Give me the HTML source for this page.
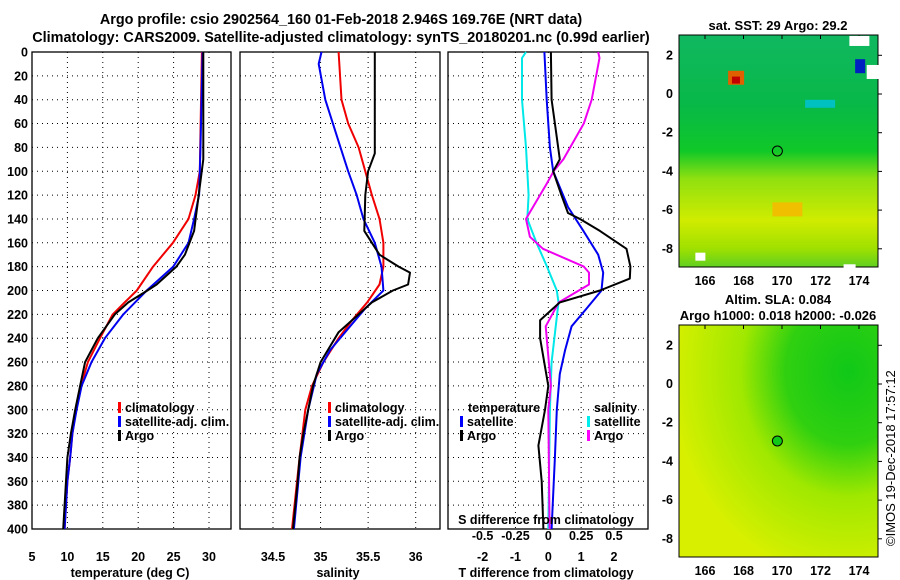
<!DOCTYPE html>
<html><head><meta charset="utf-8"><style>
html,body{margin:0;padding:0;background:#fff;}
svg{display:block;font-family:"Liberation Sans",sans-serif;font-weight:bold;}
</style></head><body>
<svg id="fig" width="900" height="580" viewBox="0 0 900 580">
<defs>
<linearGradient id="sstg" x1="0" y1="0" x2="0" y2="1">
<stop offset="0" stop-color="#10b860"/><stop offset="0.3" stop-color="#08b848"/><stop offset="0.5" stop-color="#10c828"/>
<stop offset="0.62" stop-color="#90e010"/><stop offset="0.8" stop-color="#d0ec00"/><stop offset="0.92" stop-color="#a0e000"/><stop offset="1" stop-color="#60d020"/>
</linearGradient>
<radialGradient id="slag" cx="0.85" cy="0.2" r="0.9">
<stop offset="0" stop-color="#10c818"/><stop offset="0.35" stop-color="#30d010"/><stop offset="0.6" stop-color="#a0e800"/><stop offset="1" stop-color="#d8f000"/>
</radialGradient>
</defs>
<text x="341" y="24" text-anchor="middle" font-size="14.4">Argo profile: csio 2902564_160 01-Feb-2018 2.946S 169.76E (NRT data)</text>
<text x="341" y="42" text-anchor="middle" font-size="14.4">Climatology: CARS2009. Satellite-adjusted climatology: synTS_20180201.nc (0.99d earlier)</text>
<g id="plots"></g>
<g id="maps"></g>
</svg>
<script>
// ---- data ----
const depthTicks = [0,20,40,60,80,100,120,140,160,180,200,220,240,260,280,300,320,340,360,380,400];
const tempTicks = [5,10,15,20,25,30];
const salTicks = [34.5,35,35.5,36];
const tdiffTicks = [-2,-1,0,1,2];
const sdiffTicks = [-0.5,-0.25,0,0.25,0.5];
const sdiffTickLabels = ["-0.5","-0.25","0","0.25","0.5"];

const tArgoDepth = [0,90,150,170,180,195,200,210,220,230,240,260,280,300,320,340,360,380,400];
const tArgo      = [29.2,29.2,27.9,26.6,25.4,22.6,21.3,18.6,16.7,15.5,14.3,12.5,11.8,11.1,10.5,10.0,9.8,9.6,9.4];
const tClimDepth = [0,100,120,140,160,180,200,210,220,240,260,280,300,320,340,360,400];
const tClim      = [29.0,28.7,28.1,27.1,24.9,22.1,19.8,18.1,16.4,14.6,12.9,11.9,11.2,10.7,10.4,10.0,9.6];
const tSatDepth  = [0,80,120,140,160,180,200,220,240,260,280,300,320,340,360,400];
const tSat       = [29.1,28.8,28.6,27.9,27.1,24.96,21.2,17.9,15.3,13.4,12.0,11.3,10.7,10.4,10.0,9.6];

const sArgoDepth = [0,85,100,120,150,170,180,185,195,200,210,220,235,260,280,300,320,340,360,400];
const sArgo      = [35.57,35.57,35.50,35.47,35.46,35.62,35.82,35.94,35.92,35.76,35.54,35.40,35.19,35.0,34.92,34.87,34.82,34.78,34.76,34.71];
const sClimDepth = [0,40,60,80,100,120,140,160,180,195,210,225,240,260,280,300,340,400];
const sClim      = [35.19,35.22,35.29,35.40,35.47,35.54,35.62,35.66,35.66,35.62,35.49,35.33,35.19,35.03,34.91,34.84,34.78,34.70];
const sSatDepth  = [0,10,40,80,100,120,140,160,180,200,215,230,250,270,300,340,400];
const sSat       = [35.01,34.98,35.05,35.21,35.29,35.38,35.45,35.57,35.64,35.66,35.47,35.31,35.10,34.96,34.87,34.79,34.72];

const dtArgoDepth = [0,40,60,90,100,120,135,140,150,165,180,190,200,210,225,240,280,300,330,360,400];
const dtArgo      = [0.08,0.1,0.2,0.35,0.15,0.4,0.6,0.96,1.57,2.38,2.5,2.48,1.57,0.35,-0.25,-0.25,0,-0.1,-0.3,-0.2,-0.15];
const dtSatDepth  = [0,40,80,100,130,150,170,185,200,215,230,250,270,300,340,400];
const dtSat       = [-0.12,-0.05,0.05,0.15,0.6,1.07,1.52,1.67,1.62,1.17,0.71,0.51,0.35,0.26,0.2,0.1];
const dsSatDepth  = [0,5,40,80,120,140,160,180,200,210,260,300,400];
const dsSat       = [-0.17,-0.2,-0.2,-0.17,-0.15,-0.16,-0.09,-0.01,0.065,0.078,0.025,0.012,0.0];
const dsArgoDepth = [0,5,40,60,90,100,110,140,155,165,180,185,195,210,230,280,300,400];
const dsArgo      = [0.38,0.39,0.33,0.27,0.115,0.04,-0.01,-0.17,-0.14,-0.04,0.27,0.31,0.31,0.08,-0.02,0.02,0,0.01];

const lonTicks = [166,168,170,172,174];
const latTicks = [2,0,-2,-4,-6,-8];
const argoLon = 169.76, argoLat = -2.946;

// ---- helpers ----
const NS="http://www.w3.org/2000/svg";
function mk(tag, attrs, parent){const e=document.createElementNS(NS,tag);for(const k in attrs)e.setAttribute(k,attrs[k]);parent.appendChild(e);return e;}
const plots=document.getElementById('plots');
const Y0=52, Y1=529;
const yD = d => Y0 + d*(Y1-Y0)/400;
function lin(d0,d1,r0,r1){return v=>r0+(v-d0)*(r1-r0)/(d1-d0);}

function panel(name,x0,x1,xs,ticks,labels,showY){
  const g=mk('g',{},plots);
  
  
  ticks.forEach(t=>{const x=xs(t);if(x>x0+1&&x<x1-1){const l=mk('line',{x1:x,x2:x,y1:Y0,y2:Y1,stroke:'#000','stroke-width':1,'stroke-dasharray':'1,4'},g);
    }});
  depthTicks.forEach(d=>{if(d>0&&d<400){const l=mk('line',{x1:x0,x2:x1,y1:yD(d),y2:yD(d),stroke:'#000','stroke-width':1,'stroke-dasharray':'1,4'},g);
    }});
  const r=mk('rect',{x:x0,y:Y0,width:x1-x0,height:Y1-Y0,fill:'none',stroke:'#000','stroke-width':1.3},g);
  
  ticks.forEach((t,i)=>{const x=xs(t);if(x<x0-1||x>x1+1)return;
    const tx=mk('text',{x:x,y:561,'text-anchor':'middle','font-size':12.5},g);tx.textContent=labels[i];
    });
  if(showY){depthTicks.forEach(d=>{const tx=mk('text',{x:x0-4,y:yD(d)+4.5,'text-anchor':'end','font-size':12.5},g);tx.textContent=d;
    });}
  return g;
}
function curve(g,name,xs,vals,depths,color){
  const pts=vals.map((v,i)=>xs(v).toFixed(1)+','+yD(depths[i]).toFixed(1)).join(' ');
  const p=mk('polyline',{points:pts,fill:'none',stroke:color,'stroke-width':2,'stroke-linejoin':'round'},g);
  
  
}
function legend(g,x,y,color,label){
  const b=mk('rect',{x:x,y:y-10,width:3,height:11,fill:color},g);
  
  const t=mk('text',{x:x+7,y:y,'font-size':12.5},g);t.textContent=label;
  
}
function label(g,x,y,txt,name,anchor,fs){const t=mk('text',{x:x,y:y,'text-anchor':anchor||'middle','font-size':fs||12.5},g);t.textContent=txt;
  return t;}

const xT=lin(5,30,32,209);
const g1=panel('temperature-panel',32,231,xT,tempTicks,tempTicks.map(String),true);
curve(g1,'temp-climatology-line',xT,tClim,tClimDepth,'#f00000');
curve(g1,'temp-satellite-line',xT,tSat,tSatDepth,'#0000f0');
curve(g1,'temp-argo-line',xT,tArgo,tArgoDepth,'#000');
legend(g1,118,412,'#f00','climatology');legend(g1,118,426,'#00f','satellite-adj. clim.');legend(g1,118,440,'#000','Argo');
label(g1,130,577,'temperature (deg C)','x-axis-title-temperature');

const xS=lin(34.5,36,273,415.7);
const g2=panel('salinity-panel',240,440,xS,salTicks,["34.5","35","35.5","36"],false);
curve(g2,'sal-climatology-line',xS,sClim,sClimDepth,'#f00000');
curve(g2,'sal-satellite-line',xS,sSat,sSatDepth,'#0000f0');
curve(g2,'sal-argo-line',xS,sArgo,sArgoDepth,'#000');
legend(g2,328,412,'#f00','climatology');legend(g2,328,426,'#00f','satellite-adj. clim.');legend(g2,328,440,'#000','Argo');
label(g2,338,577,'salinity','x-axis-title-salinity');

const xDT=lin(0,2,548.3,614);
const xDS=lin(0,0.5,548.3,614);
const g3=panel('difference-panel',448,648,xDT,tdiffTicks,tdiffTicks.map(String),false);
curve(g3,'sal-diff-satellite-line',xDS,dsSat,dsSatDepth,'#00e8e8');
curve(g3,'sal-diff-argo-line',xDS,dsArgo,dsArgoDepth,'#f000f0');
curve(g3,'temp-diff-satellite-line',xDT,dtSat,dtSatDepth,'#0000f0');
curve(g3,'temp-diff-argo-line',xDT,dtArgo,dtArgoDepth,'#000');
label(g3,468,412,'temperature','legend-title-temperature','start');
label(g3,594,412,'salinity','legend-title-salinity','start');
legend(g3,460,426,'#00f','satellite');legend(g3,460,440,'#000','Argo');
legend(g3,587,426,'#0ee','satellite');legend(g3,587,440,'#f0f','Argo');
label(g3,546,524,'S difference from climatology','s-diff-axis-title');
sdiffTicks.forEach((t,i)=>label(g3,xDS(t),540,sdiffTickLabels[i],'s-diff-tick-label'));
label(g3,546,577,'T difference from climatology','x-axis-title-tdiff');

// ---- maps ----
const maps=document.getElementById('maps');
const MX0=679,MX1=878;
const lonX=lin(166,174,705,859);
function map(name,top,fill,titles){
  const g=mk('g',{},maps);
  
  
  const latY=lin(0,2,top+59,top+20.3);
  const bot=top+232;
  const bg=mk('rect',{x:MX0,y:top,width:MX1-MX0,height:bot-top,fill:fill},g);
  
  const fr=mk('rect',{x:MX0,y:top,width:MX1-MX0,height:bot-top,fill:'none',stroke:'#000','stroke-width':1},g);
  
  lonTicks.forEach(l=>{label(g,lonX(l),bot+18,String(l),'lon-tick-label');
    const t1=mk('line',{x1:lonX(l),x2:lonX(l),y1:top,y2:top+4,stroke:'#000'},g);});
  latTicks.forEach(l=>{label(g,673,latY(l)+4,String(l),'lat-tick-label','end');
    const t2=mk('line',{x1:MX1,x2:MX1+4,y1:latY(l),y2:latY(l),stroke:'#000'},g);});
  titles.forEach((t,i)=>label(g,778,top-(titles.length-i)*16+11,t,'map-title','middle',13));
  return {g,latY};
}
const m1=map('sst-map',35,'url(#sstg)',['sat. SST: 29 Argo: 29.2']);
[[167.2,1.2,'#e06000',16,14],[167.4,0.9,'#c00000',8,7],[173.5,3,'#ffffff',20,10],[174.4,1.5,'#ffffff',12,14],[173.8,1.8,'#0020c0',10,14],[165.5,-8.2,'#ffffff',10,8],[173.2,-8.8,'#ffffff',12,6],[169.5,-5.6,'#f0c000',30,14],[171.2,-0.3,'#00c0c0',30,8]].forEach(f=>{
  const r=mk('rect',{x:lonX(f[0]),y:m1.latY(f[1]),width:f[3],height:f[4],fill:f[2]},m1.g);
  });
const c1=mk('circle',{cx:lonX(argoLon),cy:m1.latY(argoLat),r:5,fill:'none',stroke:'#000','stroke-width':1},m1.g);


const m2=map('sla-map',325,'url(#slag)',['Altim. SLA: 0.084','Argo h1000: 0.018 h2000: -0.026']);
const c2=mk('circle',{cx:lonX(argoLon),cy:m2.latY(argoLat),r:5,fill:'#10c818',stroke:'#000','stroke-width':1},m2.g);

const cp=mk('text',{x:0,y:0,'font-size':13,'font-weight':'normal',transform:'translate(895,546) rotate(-90)'},maps);
cp.textContent='©IMOS 19-Dec-2018 17:57:12';


</script>
</body></html>
